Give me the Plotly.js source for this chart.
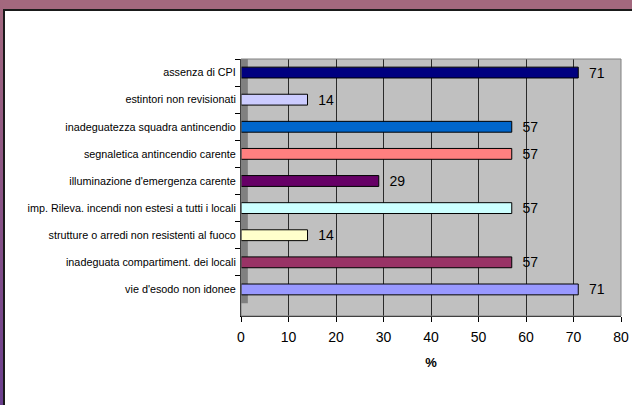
<!DOCTYPE html>
<html>
<head>
<meta charset="utf-8">
<script src="https://cdn.plot.ly/plotly-3.0.1.min.js"></script>
<style>
html,body{margin:0;padding:0;background:#fff;overflow:hidden;}
#topband{position:absolute;left:0;top:0;width:2000px;height:9px;background:#a3687e;}
#leftband{position:absolute;left:0;top:0;width:3px;height:2000px;background:linear-gradient(to bottom,#a3687e 0px,#8a5486 200px,#6b3f8e 405px);}
#frame{position:absolute;left:3px;top:9px;width:2000px;height:2000px;border-top:2px solid #1a1a1a;border-left:2px solid #1a1a1a;background:#fff;}
#chart{width:640px;height:410px;}
</style>
</head>
<body>
<div id="topband"></div>
<div id="leftband"></div>
<div id="frame"><div id="chart"></div></div>
<script>
// Categories listed from top to bottom
const categories = [
  "assenza di CPI",
  "estintori non revisionati",
  "inadeguatezza squadra antincendio",
  "segnaletica antincendio carente",
  "illuminazione d'emergenza carente",
  "imp. Rileva. incendi non estesi a tutti i locali",
  "strutture o arredi non resistenti al fuoco",
  "inadeguata compartiment. dei locali",
  "vie d'esodo non idonee"
];
const values = [71, 14, 57, 57, 29, 57, 14, 57, 71];
const barColors = ["#000080", "#ccccff", "#0066cc", "#ff8080", "#660066", "#ccffff", "#ffffcc", "#993366", "#9999ff"];
const xTicks = [0, 10, 20, 30, 40, 50, 60, 70, 80];
const xTitle = "%";

const trace = {
  type: "bar",
  orientation: "h",
  y: categories,
  x: values,
  width: 0.4,
  marker: {color: barColors, line: {color: "#000", width: 1}},
  text: values.map(v => "  " + v),
  textposition: "outside",
  constraintext: "none",
  cliponaxis: false,
  textfont: {family: "Arial, Liberation Sans, sans-serif", size: 14, color: "#000"},
  hoverinfo: "none"
};

const layout = {
  width: 640,
  height: 410,
  margin: {l: 236, r: 24, t: 48, b: 105},
  paper_bgcolor: "#ffffff",
  plot_bgcolor: "#c0c0c0",
  showlegend: false,
  font: {family: "Arial, Liberation Sans, sans-serif", color: "#000"},
  xaxis: {
    range: [0, 80],
    tickvals: xTicks,
    ticktext: xTicks.map(String),
    showgrid: true,
    gridcolor: "#2a2a2a",
    gridwidth: 1,
    zeroline: false,
    showline: true,
    linecolor: "#000",
    linewidth: 1,
    ticks: "outside",
    ticklen: 5,
    tickcolor: "#000",
    tickfont: {size: 14},
    ticklabelstandoff: 3,
    fixedrange: true,
    title: {text: xTitle, font: {size: 13, weight: "bold"}, standoff: 14}
  },
  yaxis: {
    type: "category",
    range: [8.98, -0.5],
    showgrid: false,
    zeroline: false,
    showline: true,
    linecolor: "#000",
    linewidth: 1,
    ticks: "outside",
    tickson: "boundaries",
    ticklen: 5,
    tickcolor: "#000",
    tickfont: {size: 10.8},
    ticklabelstandoff: 2,
    fixedrange: true
  },
  shapes: [
    {type: "rect", xref: "paper", yref: "paper", x0: 0, x1: 0.018, y0: 0.05, y1: 1,
     fillcolor: "#808080", line: {width: 0}, layer: "below"},
    {type: "rect", xref: "paper", yref: "paper", x0: 0, x1: 1, y0: 0, y1: 1,
     fillcolor: "rgba(0,0,0,0)", line: {color: "#808080", width: 1}}
  ],
  bargap: 0.6
};

Plotly.newPlot("chart", [trace], layout, {displayModeBar: false, staticPlot: true});
</script>
</body>
</html>
